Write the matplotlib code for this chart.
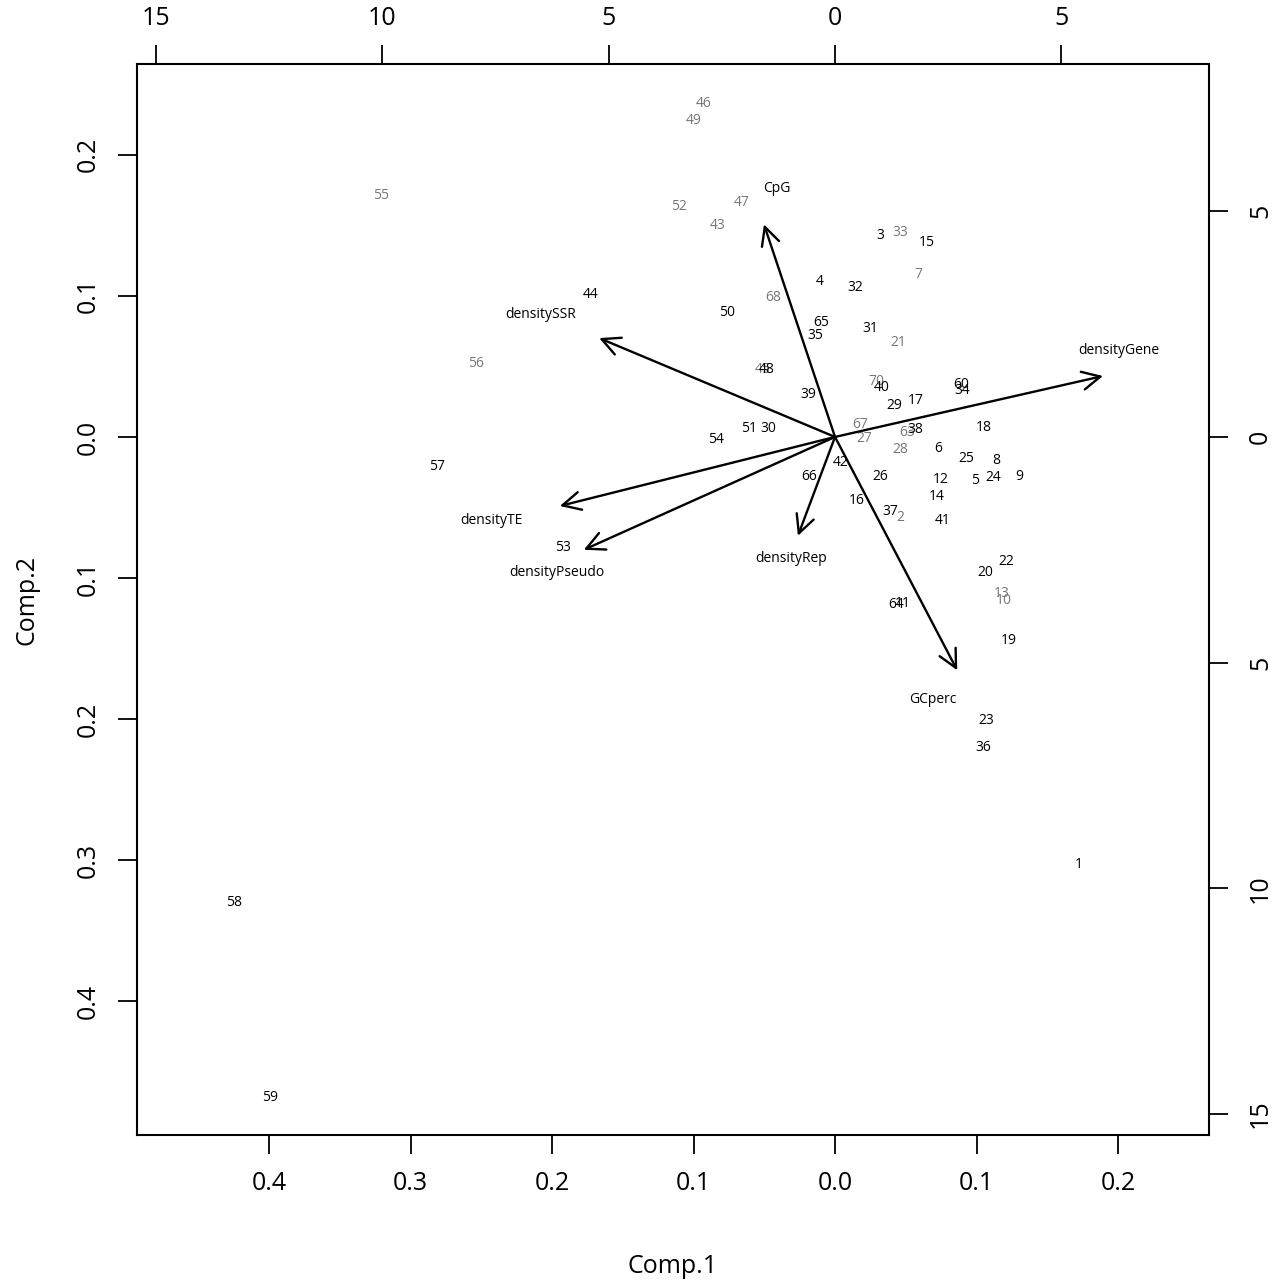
import matplotlib
matplotlib.use("Agg")
import matplotlib.pyplot as plt
from matplotlib.patches import FancyArrowPatch

plt.rcParams['font.family'] = ['Open Sans', 'DejaVu Sans']

# ---- scores (Comp.1, Comp.2) ----
obs_labels = ["46", "49", "55", "52", "47", "43", "3", "33", "15", "7", "4", "32",
              "68", "44", "50", "65", "35", "31", "21", "56", "45", "48", "39", "70",
              "40", "60", "29", "17", "34", "18", "67", "27", "63", "38", "28", "6",
              "51", "30", "54", "42", "66", "26", "25", "8", "12", "5", "24", "9",
              "14", "16", "37", "2", "41", "57", "53", "22", "20", "13", "10", "64",
              "11", "19", "23", "36", "1", "58", "59"]
obs_x = [-0.093, -0.100, -0.321, -0.110, -0.066, -0.083, 0.032, 0.046, 0.065, 0.059,
         -0.011, 0.014, -0.044, -0.173, -0.076, -0.010, -0.014, 0.025, 0.045, -0.254,
         -0.051, -0.048, -0.019, 0.029, 0.033, 0.089, 0.042, 0.057, 0.090, 0.105,
         0.018, 0.021, 0.051, 0.057, 0.046, 0.073, -0.061, -0.047, -0.084, 0.004,
         -0.018, 0.032, 0.093, 0.114, 0.075, 0.099, 0.112, 0.130, 0.072, 0.015,
         0.039, 0.046, 0.076, -0.281, -0.192, 0.121, 0.106, 0.118, 0.119, 0.043,
         0.048, 0.123, 0.107, 0.105, 0.172, -0.425, -0.399]
obs_y = [0.236, 0.224, 0.171, 0.163, 0.166, 0.150, 0.143, 0.145, 0.138, 0.115,
         0.110, 0.106, 0.099, 0.101, 0.088, 0.081, 0.072, 0.077, 0.067, 0.052,
         0.048, 0.048, 0.030, 0.039, 0.035, 0.037, 0.022, 0.026, 0.033, 0.007,
         0.009, -0.001, 0.003, 0.005, -0.009, -0.008, 0.006, 0.006, -0.002, -0.018,
         -0.028, -0.028, -0.015, -0.017, -0.030, -0.031, -0.029, -0.028, -0.042, -0.045,
         -0.053, -0.057, -0.059, -0.021, -0.078, -0.088, -0.096, -0.111, -0.116, -0.119,
         -0.118, -0.144, -0.201, -0.220, -0.303, -0.330, -0.468]
obs_grey = {"46", "49", "55", "52", "47", "43", "33", "7", "68", "21", "56", "45",
            "70", "67", "27", "63", "28", "2", "13", "10"}

# ---- loadings (scaled, secondary axes units) ----
var_labels = ["CpG", "densitySSR", "densityGene", "densityTE", "densityPseudo",
              "densityRep", "GCperc"]
var_x = [-1.57, -5.21, 5.92, -6.08, -5.55, -0.82, 2.70]
var_y = [4.71, 2.19, 1.35, -1.53, -2.50, -2.19, -5.17]
var_lab_x = [-1.28, -6.50, 6.28, -7.60, -6.14, -0.97, 2.17]
var_lab_y = [5.50, 2.72, 1.92, -1.86, -3.01, -2.70, -5.81]

# tick values and their printed labels (as drawn, without minus signs)
bottom_ticks = [-0.4, -0.3, -0.2, -0.1, 0.0, 0.1, 0.2]
bottom_labels = ["0.4", "0.3", "0.2", "0.1", "0.0", "0.1", "0.2"]
left_ticks = [0.2, 0.1, 0.0, -0.1, -0.2, -0.3, -0.4]
left_labels = ["0.2", "0.1", "0.0", "0.1", "0.2", "0.3", "0.4"]
top_ticks = [-15, -10, -5, 0, 5]
top_labels = ["15", "10", "5", "0", "5"]
right_ticks = [5, 0, -5, -10, -15]
right_labels = ["5", "0", "5", "10", "15"]

fig = plt.figure(figsize=(12.75, 12.8), dpi=100)
pos = [137 / 1275, 1 - 1135 / 1280, 1072 / 1275, 1071 / 1280]
ax = fig.add_axes(pos)
xlim1 = (-0.4933, 0.2643)
ylim1 = (-0.4947, 0.2643)
ax.set_xlim(*xlim1)
ax.set_ylim(*ylim1)

for lab, x, y in zip(obs_labels, obs_x, obs_y):
    col = "#777777" if lab in obs_grey else "black"
    ax.text(x, y, lab, ha="center", va="center", fontsize=10, color=col)

ax.set_xticks(bottom_ticks)
ax.set_xticklabels(bottom_labels)
ax.set_yticks(left_ticks)
ax.set_yticklabels(left_labels, rotation=90, va="center")
ax.tick_params(axis="both", direction="out", length=14, width=1.3,
               labelsize=18, pad=12)
for s in ax.spines.values():
    s.set_linewidth(1.5)
ax.set_xlabel("Comp.1", fontsize=18, labelpad=42)
ax.set_ylabel("Comp.2", fontsize=18, labelpad=26)

ax2 = fig.add_axes(pos, frameon=False)
ratio = 31.26
ax2.set_xlim(xlim1[0] * ratio, xlim1[1] * ratio)
ax2.set_ylim(ylim1[0] * ratio, ylim1[1] * ratio)
ax2.xaxis.tick_top()
ax2.yaxis.tick_right()
ax2.set_xticks(top_ticks)
ax2.set_xticklabels(top_labels)
ax2.set_yticks(right_ticks)
ax2.set_yticklabels(right_labels, rotation=90, va="center")
ax2.tick_params(axis="x", direction="out", length=14, width=1.3,
                labelsize=18, pad=10)
ax2.tick_params(axis="y", direction="out", length=14, width=1.3,
                labelsize=18, pad=14)

for lab, x, y, lx, ly in zip(var_labels, var_x, var_y, var_lab_x, var_lab_y):
    arr = FancyArrowPatch((0, 0), (x, y), arrowstyle="->,head_length=13,head_width=6.5",
                          mutation_scale=1, lw=1.7, color="black",
                          shrinkA=0, shrinkB=0)
    ax2.add_patch(arr)
    ax2.text(lx, ly, lab, ha="center", va="center", fontsize=10, color="black")

fig.savefig("out.png", dpi=100)
